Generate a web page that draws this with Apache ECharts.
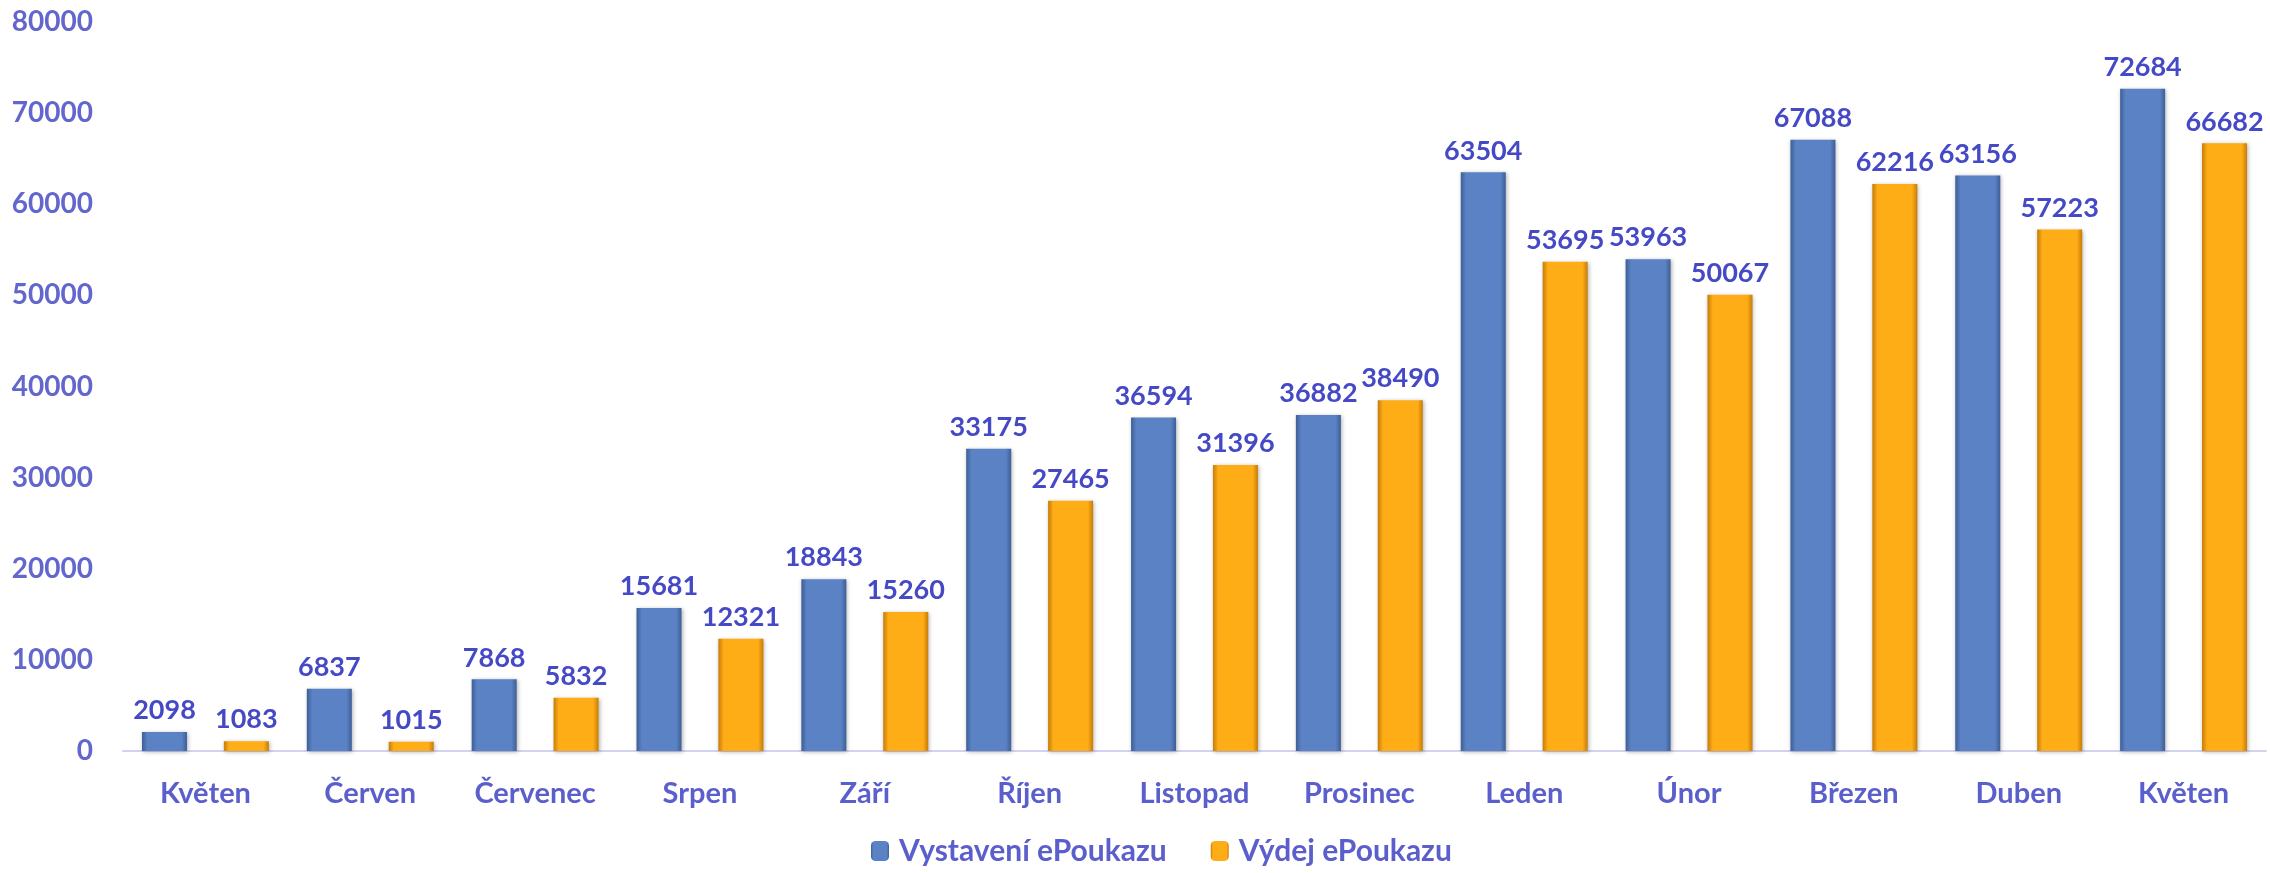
<!DOCTYPE html>
<html>
<head>
<meta charset="utf-8">
<script src="https://cdn.jsdelivr.net/npm/echarts@6/dist/echarts.min.js"></script>
<style>
html, body { margin: 0; padding: 0; background: #fff; }
#mychart { width: 2270px; height: 873px; }
</style>
</head>
<body>
<div id="mychart"></div>
<script>
var months = ['Květen', 'Červen', 'Červenec', 'Srpen', 'Září', 'Říjen', 'Listopad', 'Prosinec', 'Leden', 'Únor', 'Březen', 'Duben', 'Květen'];
var vystaveni = [2098, 6837, 7868, 15681, 18843, 33175, 36594, 36882, 63504, 53963, 67088, 63156, 72684];
var vydej = [1083, 1015, 5832, 12321, 15260, 27465, 31396, 38490, 53695, 50067, 62216, 57223, 66682];

var dom = document.getElementById("mychart");
var myChart = echarts.init(dom);

function barGradient(edge, mid) {
    return new echarts.graphic.LinearGradient(0, 0, 1, 0, [
        {offset: 0, color: edge},
        {offset: 0.12, color: mid},
        {offset: 0.88, color: mid},
        {offset: 1, color: edge}
    ]);
}

var labelStyle = {
    show: true,
    position: 'top',
    distance: 8,
    color: '#4549c6',
    fontFamily: 'Lato',
    fontWeight: 'bold',
    fontSize: 27
};

var option = {
    animation: false,
    legend: {
        bottom: 2,
        left: 866,
        itemWidth: 18,
        itemHeight: 20,
        itemGap: 44,
        textStyle: {
            color: '#5b5fcc',
            fontFamily: 'Lato',
            fontWeight: 'bold',
            fontSize: 30,
            padding: [0, 0, 0, 5]
        },
        data: ['Vystavení ePoukazu', 'Výdej ePoukazu']
    },
    grid: {
        left: 123,
        right: 4,
        top: 22,
        bottom: 122
    },
    xAxis: {
        type: 'category',
        data: months,
        axisTick: {show: false},
        axisLine: {lineStyle: {color: '#d3d3f0', width: 2}},
        axisLabel: {
            margin: 28,
            color: '#5b5fcc',
            fontFamily: 'Lato',
            fontWeight: 'bold',
            fontSize: 29
        }
    },
    yAxis: {
        type: 'value',
        min: 0,
        max: 80000,
        interval: 10000,
        splitLine: {show: false},
        axisLine: {show: false},
        axisTick: {show: false},
        axisLabel: {
            margin: 30,
            color: '#6366cc',
            fontFamily: 'Lato',
            fontWeight: 'bold',
            fontSize: 28,
            formatter: function (v) { return String(v); }
        }
    },
    series: [
        {
            name: 'Vystavení ePoukazu',
            type: 'bar',
            barWidth: 45,
            barGap: '82%',
            data: vystaveni,
            label: labelStyle,
            itemStyle: {
                color: barGradient('#3d5f97', '#5b82c4'),
                shadowBlur: 4,
                shadowColor: 'rgba(0,0,0,0.3)',
                shadowOffsetX: 1,
                shadowOffsetY: 1
            }
        },
        {
            name: 'Výdej ePoukazu',
            type: 'bar',
            barWidth: 45,
            data: vydej,
            label: labelStyle,
            itemStyle: {
                color: barGradient('#c77d06', '#ffad17'),
                shadowBlur: 4,
                shadowColor: 'rgba(0,0,0,0.3)',
                shadowOffsetX: 1,
                shadowOffsetY: 1
            }
        }
    ]
};

if (option && typeof option === 'object') {
    myChart.setOption(option);
}
</script>
</body>
</html>
